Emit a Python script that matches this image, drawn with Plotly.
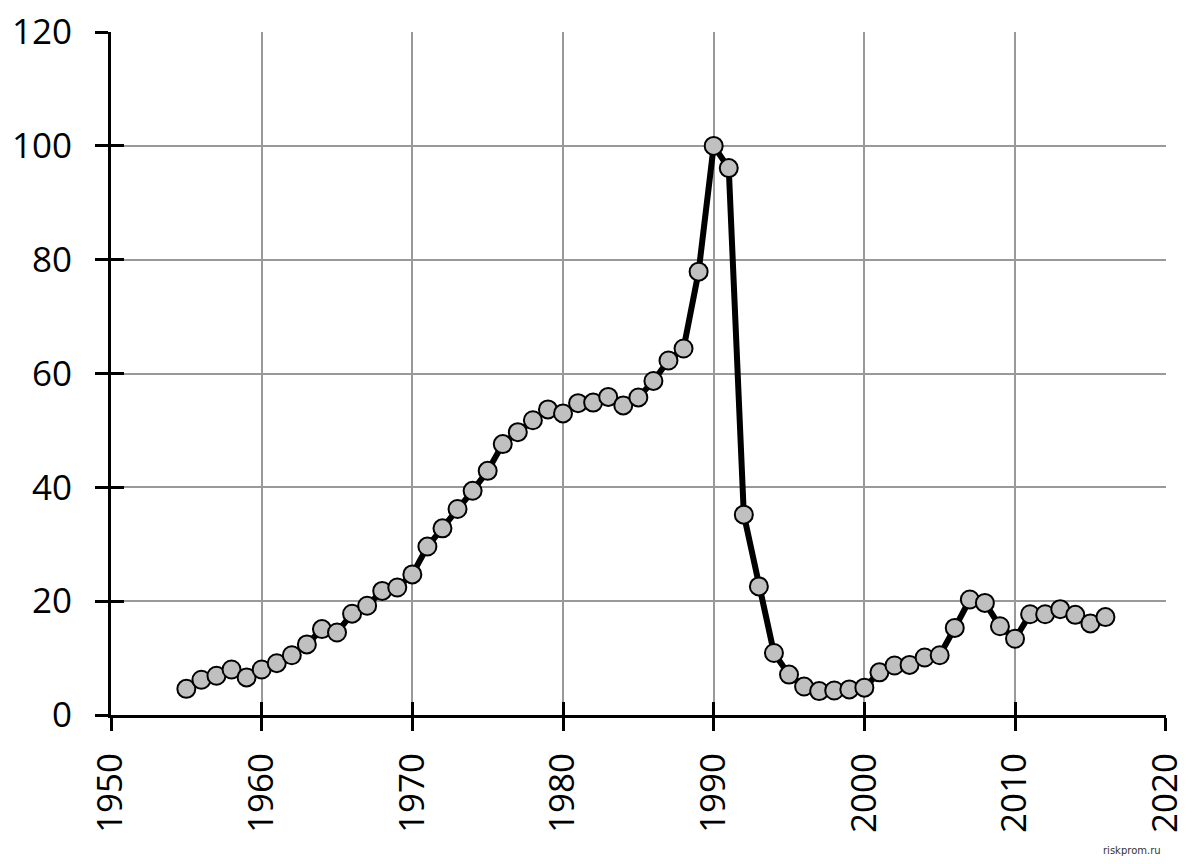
import plotly.graph_objects as go

years = list(range(1955, 2017))
values = [
    4.6, 6.2, 6.9, 8.0, 6.6, 8.0, 9.1, 10.5, 12.4, 15.1,
    14.5, 17.8, 19.2, 21.8, 22.4, 24.7, 29.6, 32.8, 36.2, 39.4,
    42.9, 47.6, 49.7, 51.8, 53.7, 53.0, 54.8, 54.9, 55.9, 54.4,
    55.8, 58.7, 62.3, 64.4, 77.9, 100.0, 96.1, 35.2, 22.6, 10.9,
    7.1, 5.0, 4.2, 4.3, 4.5, 4.8, 7.5, 8.7, 8.8, 10.1,
    10.5, 15.3, 20.3, 19.7, 15.6, 13.4, 17.7, 17.7, 18.6, 17.6,
    16.1, 17.2,
]
x_ticks = [1950, 1960, 1970, 1980, 1990, 2000, 2010, 2020]
y_ticks = [0, 20, 40, 60, 80, 100, 120]
watermark = "riskprom.ru"

FONT = "Open Sans"
FSIZE = 35
X_RANGE = [1950, 2020.02]
Y_RANGE = [0, 120.02]

fig = go.Figure()
fig.add_trace(go.Scatter(
    x=years, y=values, mode="lines+markers",
    line=dict(color="black", width=6),
    marker=dict(size=18, color="#c0c0c0", line=dict(color="black", width=2)),
    showlegend=False, hoverinfo="x+y",
))
fig.add_trace(go.Scatter(x=[1950], y=[0], xaxis="x2", yaxis="y2",
                         mode="markers", marker=dict(opacity=0), showlegend=False,
                         hoverinfo="skip"))

fig.update_layout(
    width=1200, height=864,
    margin=dict(l=103, r=42, t=24, b=157),
    paper_bgcolor="white", plot_bgcolor="white",
    font=dict(family=FONT, color="black", size=FSIZE),
    xaxis=dict(
        range=X_RANGE, tickvals=x_ticks, ticktext=[str(v) for v in x_ticks],
        tickangle=-90, showgrid=True, gridcolor="#999999", gridwidth=2,
        showline=True, linecolor="black", linewidth=3,
        ticks="outside", ticklen=13, tickwidth=3, tickcolor="black",
        ticklabelstandoff=8, zeroline=False, automargin=False,
        ticklabeloverflow="allow",
        tickfont=dict(family=FONT, size=FSIZE, color="black"),
    ),
    yaxis=dict(
        range=Y_RANGE, tickvals=y_ticks, showgrid=True, gridcolor="#999999", gridwidth=2,
        showline=True, linecolor="black", linewidth=3,
        ticks="outside", ticklen=13, tickwidth=3, tickcolor="black",
        ticklabelstandoff=16, zeroline=False, automargin=False,
        ticklabeloverflow="allow",
        tickfont=dict(family=FONT, size=FSIZE, color="black"),
    ),
    xaxis2=dict(
        range=X_RANGE, tickvals=x_ticks, overlaying="x", side="bottom",
        ticks="inside", ticklen=13, tickwidth=3, tickcolor="black",
        showticklabels=False, showgrid=False, zeroline=False, showline=False,
        automargin=False,
    ),
    yaxis2=dict(
        range=Y_RANGE, tickvals=y_ticks, overlaying="y", side="left",
        ticks="inside", ticklen=13, tickwidth=3, tickcolor="black",
        showticklabels=False, showgrid=False, zeroline=False, showline=False,
        automargin=False,
    ),
    annotations=[dict(
        text=watermark, xref="paper", yref="paper", x=0.997, y=-0.198,
        xanchor="right", yanchor="middle", showarrow=False,
        font=dict(family="DejaVu Sans", size=10, color="#333333"),
    )],
)

fig.write_html("out.html")
